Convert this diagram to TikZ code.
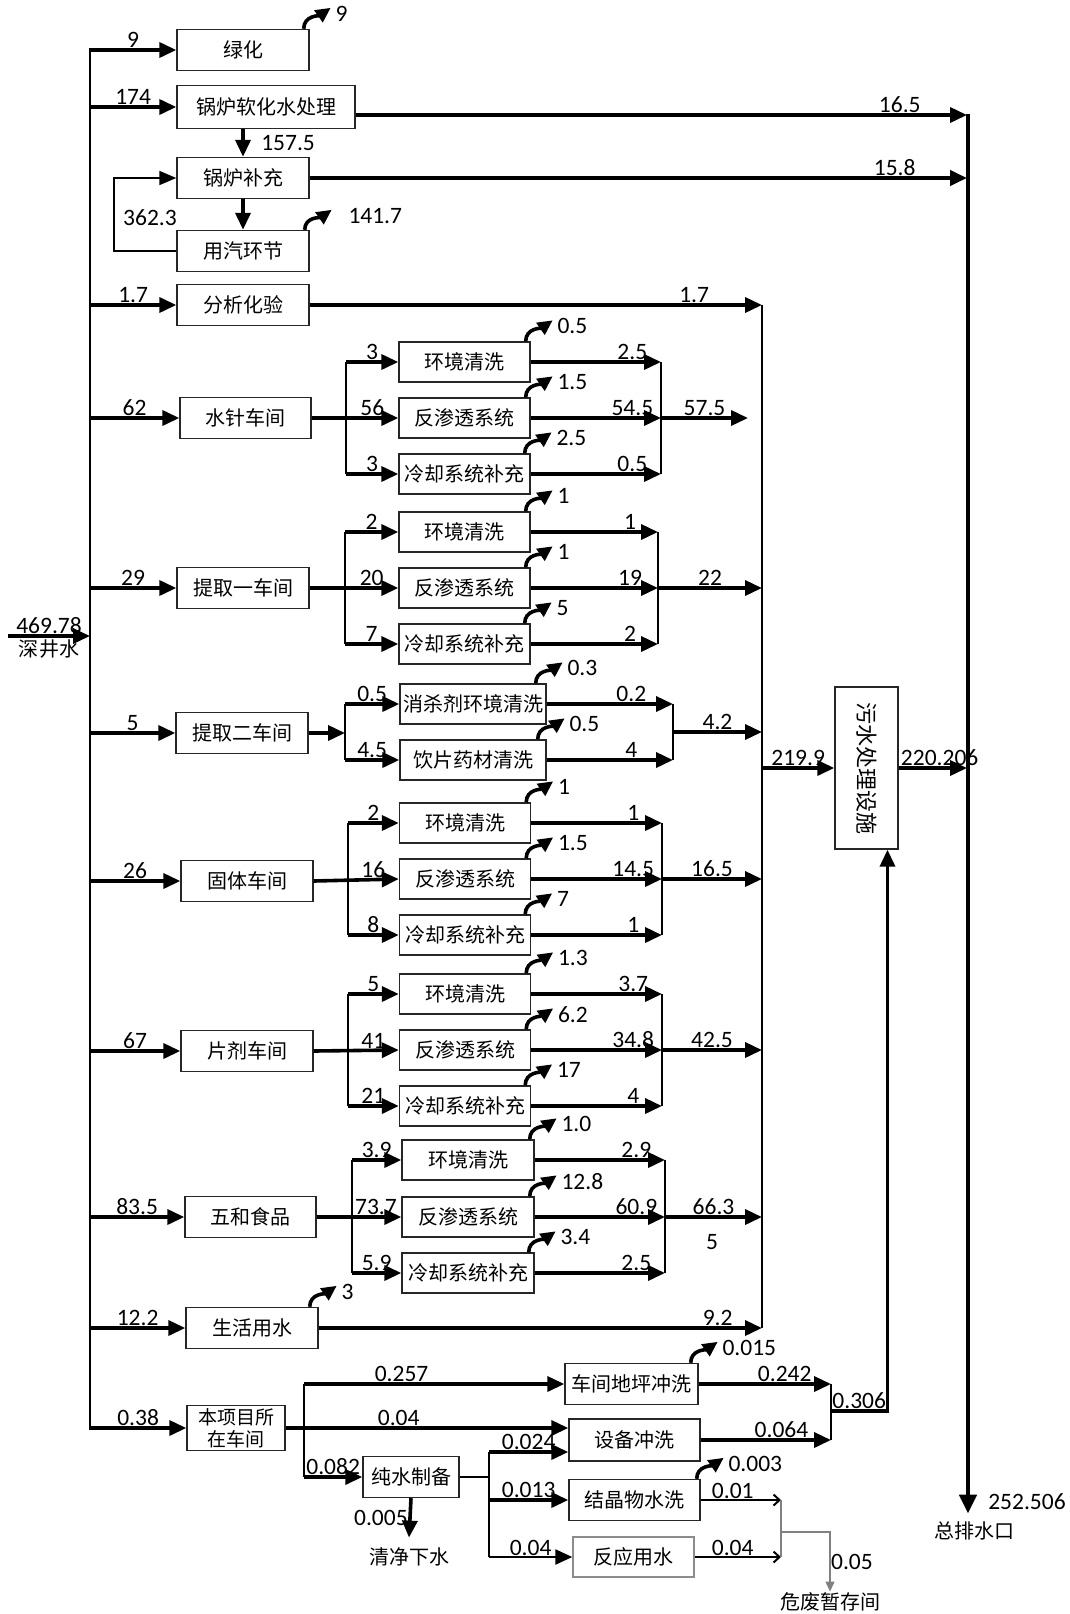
\documentclass[tikz,border=0pt]{standalone}
\usepackage{fontspec}
\usepackage{graphicx}
\setmainfont{Carlito}
\newfontfamily\cjk{Noto Sans CJK SC}
\usetikzlibrary{arrows.meta,positioning,calc}

\tikzset{
  box/.style={draw=black!85, line width=1.4pt, minimum width=132pt, minimum height=41pt, inner sep=1pt, font=\cjk\fontsize{20}{22}\selectfont},
  sub/.style={box, minimum width=131pt, minimum height=40pt},
  flow/.style={line width=3.6pt, -{Triangle[length=17pt,width=15pt]}},
  pipe/.style={line width=1.7pt},
  thinflow/.style={line width=2pt, -{Straight Barb[length=6pt,width=11pt]}},
  curl/.style={line width=3.6pt, -{Triangle[length=15pt,width=14pt]}},
  num/.style={font=\fontsize{23.5}{25}\selectfont, inner sep=0.5pt, above},
  evl/.style={font=\fontsize{23.5}{25}\selectfont, inner sep=0pt, anchor=west, xshift=3pt, yshift=-6pt},
  txt/.style={font=\cjk\fontsize{20}{22}\selectfont, inner sep=1pt},
}

\begin{document}
\begin{tikzpicture}[x=1pt,y=-1pt]
\useasboundingbox (0,0) rectangle (1069,1614);

% deep well water trunk
\coordinate (tTop) at (90,48);
\coordinate (tBot) at (90,1430);
\coordinate (src) at (8,636);
\draw[pipe] (tTop) -- (tBot);
\draw[flow] (src) -- node[num]{469.78} node[txt,below=1pt]{深井水} (src -| tTop);

% boiler part
\node[box] (lvh) at (243,50) {绿化};
\node[box, minimum width=178pt, minimum height=43pt] (gl) at (266,107) {锅炉软化水处理};
\node[box] (bc) at (243,178) {锅炉补充};
\node[box] (yq) at (243,251) {用汽环节};
\node[box] (fx) at (243,305) {分析化验};
\draw[flow] (tTop |- lvh.west) -- node[num]{9} (lvh.west);
\draw[curl] ([xshift=-6pt]lvh.north east) to[out=90,in=215] ++(27,-21) node[evl]{9};
\draw[flow] (tTop |- gl.west) -- node[num]{174} (gl.west);
\draw[flow] (gl.south -| bc.north) -- node[num,right=16pt]{157.5} (bc.north);
\draw[flow] (bc.south) -- (yq.north);
\draw[curl] ([xshift=-5pt]yq.north east) to[out=90,in=215] ++(27,-20) node[evl,xshift=12pt]{141.7};
\coordinate (lp) at (114,251);
\draw[pipe, -{Triangle[length=17pt,width=14pt]}] (yq.west) -- (lp) |- (bc.west);
\node[num, anchor=center] (lpl) at (150,218) {362.3};

% to the outlet
\coordinate (p165) at (967,115);
\coordinate (p158) at (967,178);
\draw[flow] (gl.east |- p165) -- node[num,pos=.89]{16.5} (p165);
\draw[flow, line width=4pt] (bc.east) -- node[num,pos=.89]{15.8} (p158);
\node[txt] (zp) at (974,1531) {总排水口};
\draw[line width=4.5pt, -{Triangle[length=19pt,width=17pt]}] ([shift={(1pt,1pt)}]p165) -- ([xshift=1pt,yshift=7pt]p165 |- zp.north);
\node[num, anchor=center] (tot) at (1027,1502) {252.506};

% lab
\draw[flow] (tTop |- fx.west) -- node[num]{1.7} (fx.west);
\coordinate (cTop) at (762,305);
\coordinate (cBot) at (762,1328);
\draw[flow] (fx.east) -- node[num,pos=.85]{1.7} (cTop);
\draw[pipe] (cTop) -- (cBot);

% 水针车间
\node[box, minimum width=131pt] (sz) at (245.5,418) {水针车间};
\node[sub] (szA) at (464.5,362) {环境清洗};
\node[sub] (szB) at (464.5,418) {反渗透系统};
\node[sub] (szC) at (464.5,474) {冷却系统补充};
\coordinate (szV) at (346,418);
\coordinate (szO) at (661,418);
\coordinate (szE) at (748,418);
\draw[flow] (tTop |- sz.west) -- node[num]{62} (sz.west);
\draw[pipe] (szV |- szA.west) -- (szV |- szC.west);
\draw[flow] (szV |- szA.west) -- node[num]{3} (szA.west);
\draw[flow] (sz.east) -- node[num,pos=.7]{56} (szB.west);
\draw[flow] (szV |- szC.west) -- node[num]{3} (szC.west);
\draw[curl] ([xshift=-5pt]szA.north east) to[out=90,in=215] ++(27,-21) node[evl]{0.5};
\draw[curl] ([xshift=-5pt]szB.north east) to[out=90,in=215] ++(27,-21) node[evl]{1.5};
\draw[curl] ([xshift=-6pt]szC.north east) to[out=90,in=215] ++(27,-21) node[evl]{2.5};
\draw[flow] (szA.east) -- node[num,pos=.78]{2.5} (szA.east -| szO);
\draw[flow] (szB.east) -- node[num,pos=.78]{54.5} (szO);
\draw[flow] (szC.east) -- node[num,pos=.78]{0.5} (szC.east -| szO);
\draw[pipe] (szA.east -| szO) -- (szC.east -| szO);
\draw[flow] (szO) -- node[num]{57.5} (szE);

% 提取一车间
\node[box] (tqa) at (243,588) {提取一车间};
\node[sub] (tqaA) at (464.5,532) {环境清洗};
\node[sub] (tqaB) at (464.5,588) {反渗透系统};
\node[sub] (tqaC) at (464.5,644) {冷却系统补充};
\coordinate (tqaV) at (345,588);
\coordinate (tqaO) at (658,588);
\draw[flow] (tTop |- tqa.west) -- node[num]{29} (tqa.west);
\draw[pipe] (tqaV |- tqaA.west) -- (tqaV |- tqaC.west);
\draw[flow] (tqaV |- tqaA.west) -- node[num]{2} (tqaA.west);
\draw[flow] (tqa.east) -- node[num,pos=.7]{20} (tqaB.west);
\draw[flow] (tqaV |- tqaC.west) -- node[num]{7} (tqaC.west);
\draw[curl] ([xshift=-5pt]tqaA.north east) to[out=90,in=215] ++(27,-21) node[evl]{1};
\draw[curl] ([xshift=-5pt]tqaB.north east) to[out=90,in=215] ++(27,-21) node[evl]{1};
\draw[curl] ([xshift=-6pt]tqaC.north east) to[out=90,in=215] ++(27,-21) node[evl]{5};
\draw[flow] (tqaA.east) -- node[num,pos=.78]{1} (tqaA.east -| tqaO);
\draw[flow] (tqaB.east) -- node[num,pos=.78]{19} (tqaO);
\draw[flow] (tqaC.east) -- node[num,pos=.78]{2} (tqaC.east -| tqaO);
\draw[pipe] (tqaA.east -| tqaO) -- (tqaC.east -| tqaO);
\draw[flow] (tqaO) -- node[num]{22} (cTop |- tqaO);

% 提取二车间
\node[box] (tqb) at (242,733) {提取二车间};
\node[sub, minimum width=146pt] (tqbA) at (473,704) {消杀剂环境清洗};
\node[sub, minimum width=146pt] (tqbB) at (473,760) {饮片药材清洗};
\coordinate (tqbV) at (345,733);
\coordinate (tqbO) at (673,732);
\draw[flow] (tTop |- tqb.west) -- node[num]{5} (tqb.west);
\draw[flow] (tqb.east) -- (tqbV);
\draw[pipe] (tqbV |- tqbA.west) -- (tqbV |- tqbB.west);
\draw[flow] (tqbV |- tqbA.west) -- node[num]{0.5} (tqbA.west);
\draw[flow] (tqbV |- tqbB.west) -- node[num]{4.5} (tqbB.west);
\draw[curl] ([xshift=-11pt]tqbA.north east) to[out=90,in=215] ++(27,-21) node[evl]{0.3};
\draw[curl] ([xshift=-9pt]tqbB.north east) to[out=90,in=215] ++(27,-21) node[evl]{0.5};
\draw[flow] (tqbA.east) -- node[num,pos=.67]{0.2} (tqbA.east -| tqbO);
\draw[flow] (tqbB.east) -- node[num,pos=.67]{4} (tqbB.east -| tqbO);
\draw[pipe] (tqbA.east -| tqbO) -- (tqbB.east -| tqbO);
\draw[flow] (tqbO) -- node[num]{4.2} (cTop |- tqbO);

% 固体车间
\node[box] (gt) at (247,881) {固体车间};
\node[sub] (gtA) at (465,823) {环境清洗};
\node[sub] (gtB) at (465,879) {反渗透系统};
\node[sub] (gtC) at (465,935) {冷却系统补充};
\coordinate (gtV) at (348,879);
\coordinate (gtO) at (662,879);
\draw[flow] (tTop |- gt.west) -- node[num]{26} (gt.west);
\draw[pipe] (gtV |- gtA.west) -- (gtV |- gtC.west);
\draw[flow] (gtV |- gtA.west) -- node[num]{2} (gtA.west);
\draw[flow] (gt.east) -- node[num,pos=.7]{16} (gtB.west);
\draw[flow] (gtV |- gtC.west) -- node[num]{8} (gtC.west);
\draw[curl] ([xshift=-5pt]gtA.north east) to[out=90,in=215] ++(27,-21) node[evl]{1};
\draw[curl] ([xshift=-5pt]gtB.north east) to[out=90,in=215] ++(27,-21) node[evl]{1.5};
\draw[curl] ([xshift=-6pt]gtC.north east) to[out=90,in=215] ++(27,-21) node[evl]{7};
\draw[flow] (gtA.east) -- node[num,pos=.78]{1} (gtA.east -| gtO);
\draw[flow] (gtB.east) -- node[num,pos=.78]{14.5} (gtO);
\draw[flow] (gtC.east) -- node[num,pos=.78]{1} (gtC.east -| gtO);
\draw[pipe] (gtA.east -| gtO) -- (gtC.east -| gtO);
\draw[flow] (gtO) -- node[num]{16.5} (cTop |- gtO);

% 片剂车间
\node[box] (pj) at (247,1051) {片剂车间};
\node[sub] (pjA) at (465,994) {环境清洗};
\node[sub] (pjB) at (465,1050) {反渗透系统};
\node[sub] (pjC) at (465,1106) {冷却系统补充};
\coordinate (pjV) at (348,1051);
\coordinate (pjO) at (662,1050);
\draw[flow] (tTop |- pj.west) -- node[num]{67} (pj.west);
\draw[pipe] (pjV |- pjA.west) -- (pjV |- pjC.west);
\draw[flow] (pjV |- pjA.west) -- node[num]{5} (pjA.west);
\draw[flow] (pj.east) -- node[num,pos=.7]{41} (pjB.west);
\draw[flow] (pjV |- pjC.west) -- node[num]{21} (pjC.west);
\draw[curl] ([xshift=-5pt]pjA.north east) to[out=90,in=215] ++(27,-21) node[evl]{1.3};
\draw[curl] ([xshift=-5pt]pjB.north east) to[out=90,in=215] ++(27,-21) node[evl]{6.2};
\draw[curl] ([xshift=-6pt]pjC.north east) to[out=90,in=215] ++(27,-21) node[evl]{17};
\draw[flow] (pjA.east) -- node[num,pos=.78]{3.7} (pjA.east -| pjO);
\draw[flow] (pjB.east) -- node[num,pos=.78]{34.8} (pjO);
\draw[flow] (pjC.east) -- node[num,pos=.78]{4} (pjC.east -| pjO);
\draw[pipe] (pjA.east -| pjO) -- (pjC.east -| pjO);
\draw[flow] (pjO) -- node[num]{42.5} (cTop |- pjO);

% 五和食品
\node[box, minimum width=131pt] (wh) at (250.5,1217) {五和食品};
\node[sub, minimum width=132pt] (whA) at (468,1160) {环境清洗};
\node[sub, minimum width=132pt] (whB) at (468,1217) {反渗透系统};
\node[sub, minimum width=132pt] (whC) at (468,1273) {冷却系统补充};
\coordinate (whV) at (352,1217);
\coordinate (whO) at (665,1217);
\draw[flow] (tTop |- wh.west) -- node[num]{83.5} (wh.west);
\draw[pipe] (whV |- whA.west) -- (whV |- whC.west);
\draw[flow] (whV |- whA.west) -- node[num]{3.9} (whA.west);
\draw[flow] (wh.east) -- node[num,pos=.7]{73.7} (whB.west);
\draw[flow] (whV |- whC.west) -- node[num]{5.9} (whC.west);
\draw[curl] ([xshift=-5pt]whA.north east) to[out=90,in=215] ++(27,-21) node[evl]{1.0};
\draw[curl] ([xshift=-5pt]whB.north east) to[out=90,in=215] ++(27,-21) node[evl]{12.8};
\draw[curl] ([xshift=-6pt]whC.north east) to[out=90,in=215] ++(27,-21) node[evl]{3.4};
\draw[flow] (whA.east) -- node[num,pos=.78]{2.9} (whA.east -| whO);
\draw[flow] (whB.east) -- node[num,pos=.78]{60.9} (whO);
\draw[flow] (whC.east) -- node[num,pos=.78]{2.5} (whC.east -| whO);
\draw[pipe] (whA.east -| whO) -- (whC.east -| whO);
\draw[flow] (whO) -- node[num]{66.3} (cTop |- whO);
\node[num, anchor=center] (whx) at (712,1242) {5};

% 生活用水
\node[box] (sh) at (252,1328) {生活用水};
\draw[flow] (tTop |- sh.west) -- node[num]{12.2} (sh.west);
\draw[curl] ([xshift=-9pt]sh.north east) to[out=90,in=215] ++(27,-21) node[evl]{3};
\draw[flow] (sh.east) -- node[num,pos=.9]{9.2} (cBot);

% sewage plant
\node[box, minimum width=63pt, minimum height=162pt] (wsh) at (866.5,768) {\rotatebox{-90}{\fontsize{22}{24}\selectfont 污水处理设施}};
\draw[flow] (cTop |- wsh.west) -- node[num]{219.9} (wsh.west);
\draw[flow] (wsh.east) -- node[num,pos=.6]{220.206} (p165 |- wsh.east);

% 本项目所在车间
\node[box, minimum width=98pt, minimum height=45pt, align=center, inner sep=0pt, font=\cjk\fontsize{19}{22}\selectfont] (bx) at (236,1428) {本项目所\\在车间};
\node[box, minimum width=133pt] (cj) at (631.5,1384) {车间地坪冲洗};
\node[box, minimum width=131pt, minimum height=42pt] (sb) at (634.5,1440) {设备冲洗};
\node[box, minimum width=96pt] (cs) at (411,1477) {纯水制备};
\node[box, minimum width=131pt] (jj) at (634.5,1500) {结晶物水洗};
\node[box, draw=black!45, minimum width=121pt, minimum height=40pt] (fy) at (633.5,1557) {反应用水};
\node[txt] (qj) at (409,1557) {清净下水};
\node[txt] (wf) at (830,1602) {危废暂存间};
\coordinate (bxV) at (304,1428);
\coordinate (csT) at (489,1452);
\coordinate (csB) at (489,1557);
\coordinate (hbV) at (831,1411);
\coordinate (wfV) at (781,1532);
\coordinate (wIn) at ([xshift=21pt]wsh.south);
\draw[flow] (tTop |- bx.west) -- node[num]{0.38} (bx.west);
\draw[pipe] (bxV |- cj.west) -- (bxV |- cs.west);
\draw[flow] (bxV |- cj.west) -- node[num,pos=.375]{0.257} (cj.west);
\draw[flow] (bx.east) -- node[num,pos=.4]{0.04} (bx.east -| sb.west);
\draw[flow] (bxV |- cs.west) -- node[num]{0.082} (cs.west);
\draw[flow] (cs.south) -- node[num,left]{0.005} ([yshift=9pt]qj.north);
\draw[pipe, line width=1.2pt] (cs.east) -- (csT |- cs.east);
\draw[pipe] (csT) -- (csB);
\draw[flow] (csT) -- node[num]{0.024} (csT -| sb.west);
\draw[flow] (csT |- jj.west) -- node[num]{0.013} (jj.west);
\draw[flow, line width=2.4pt] (csB) -- node[num]{0.04} (fy.west);
\draw[curl] ([xshift=-8pt]cj.north east) to[out=90,in=215] ++(27,-21) node[evl]{0.015};
\draw[curl] ([xshift=-4pt]jj.north east) to[out=90,in=215] ++(27,-21) node[evl]{0.003};
\draw[flow] (cj.east) -- node[num,pos=.65]{0.242} (cj.east -| hbV);
\draw[flow] (sb.east) -- node[num,pos=.62]{0.064} (sb.east -| hbV);
\draw[pipe] (cj.east -| hbV) -- (sb.east -| hbV);
\draw[flow] (hbV) -- node[num]{0.306} (hbV -| wIn) -- (wIn);
\draw[thinflow] (jj.east) -- node[num,pos=.4]{0.01} (jj.east -| wfV);
\draw[thinflow] (fy.east) -- node[num,pos=.44]{0.04} (fy.east -| wfV);
\draw[gray, line width=1.2pt] (jj.east -| wfV) -- (fy.east -| wfV);
\draw[gray, line width=1.2pt, -{Triangle[length=10pt,width=9pt]}] (wfV) -| node[num,right,pos=.75,text=black]{0.05} (wf.north);
\end{tikzpicture}
\end{document}
